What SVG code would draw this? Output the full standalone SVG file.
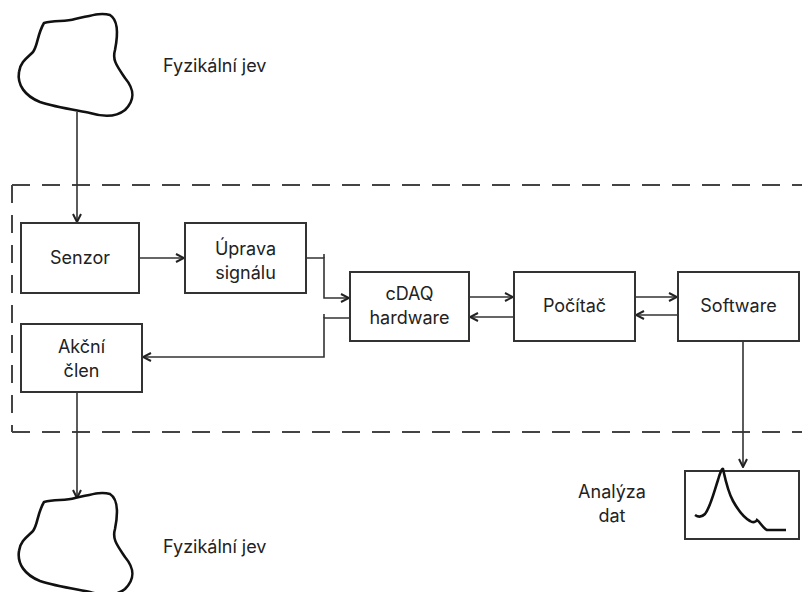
<svg xmlns="http://www.w3.org/2000/svg" width="802" height="592" viewBox="0 0 802 592">
<style>
  text { font-family: Inter, "Open Sans", "Liberation Sans", sans-serif; font-size: 18px; fill: #222; text-anchor: middle; }
  .box { fill: #fff; stroke: #333; stroke-width: 2; }
  .cloud { fill: #fff; stroke: #111; stroke-width: 2.6; }
  .conn { fill: none; stroke: #333; stroke-width: 1.6; }
  .dash { fill: none; stroke: #444; stroke-width: 2; stroke-dasharray: 18 12; }
  .lbl { text-anchor: start; }
</style>
<defs>
  <marker id="arr" viewBox="0 0 10 10" refX="9" refY="5" markerWidth="10" markerHeight="10" markerUnits="userSpaceOnUse" orient="auto">
    <path d="M1,1 L9,5 L1,9" fill="none" stroke="#222" stroke-width="2"/>
  </marker>
  <path id="cloudShape" d="M44,23 C55,20 65,22 75,19 C90,16 100,12 110,15 C118,20 118,35 115,50 C112,60 117,66 125,78 C135,90 135,100 125,110 C115,118 100,116 90,113 C75,110 55,107 40,102 C25,96 17,85 19,72 C20,62 28,57 33,52 C38,45 37,35 44,23 Z"/>
</defs>

<g id="boundary">
  <path class="dash" d="M12,185 H802"/>
  <path class="dash" d="M12,432 H802"/>
  <path class="dash" d="M12,185 V432"/>
</g>

<g id="connectors">
  <path class="conn" d="M77,112 V222" marker-end="url(#arr)"/>
  <path class="conn" d="M139,258 H184" marker-end="url(#arr)"/>
  <path class="conn" d="M306,258 H324 V298 H349" marker-end="url(#arr)"/>
  <path class="conn" d="M324,254 V258"/>
  <path class="conn" d="M350,318 H324 V357 H143" marker-end="url(#arr)"/>
  <path class="conn" d="M324,314 V318"/>
  <path class="conn" d="M469,297 H513" marker-end="url(#arr)"/>
  <path class="conn" d="M514,317 H470" marker-end="url(#arr)"/>
  <path class="conn" d="M635,297 H677" marker-end="url(#arr)"/>
  <path class="conn" d="M678,315 H636" marker-end="url(#arr)"/>
  <path class="conn" d="M743,341 V467" marker-end="url(#arr)"/>
  <path class="conn" d="M77,392 V498" marker-end="url(#arr)"/>
</g>

<g id="cloud-top">
  <use href="#cloudShape" class="cloud"/>
  <text class="lbl" x="163" y="72">Fyzikální jev</text>
</g>

<g id="senzor">
  <rect class="box" x="21" y="223" width="118" height="70"/>
  <text x="80" y="264">Senzor</text>
</g>

<g id="uprava">
  <rect class="box" x="185" y="223" width="121" height="70"/>
  <text x="245.5" y="255">Úprava</text>
  <text x="245.5" y="279">signálu</text>
</g>

<g id="akcni">
  <rect class="box" x="21" y="324" width="121" height="68"/>
  <text x="81.5" y="353">Akční</text>
  <text x="81.5" y="377">člen</text>
</g>

<g id="cdaq">
  <rect class="box" x="350" y="272" width="119" height="69"/>
  <text x="409.5" y="300">cDAQ</text>
  <text x="409.5" y="324">hardware</text>
</g>

<g id="pocitac">
  <rect class="box" x="514" y="272" width="121" height="69"/>
  <text x="574.5" y="312">Počítač</text>
</g>

<g id="software">
  <rect class="box" x="678" y="272" width="121" height="69"/>
  <text x="738.5" y="312">Software</text>
</g>

<g id="analyza">
  <rect class="box" x="685" y="471" width="114" height="68"/>
  <path d="M695,515 C698,517 701,518 705,514 C710,508 714,492 718,480 C720,473 722,468 723,469 C725,478 728,492 733,501 C738,510 743,517 750,521 C753,523 756,522 757,520 C760,522 763,528 767,530 H786" fill="none" stroke="#111" stroke-width="2.6"/>
  <text x="612" y="498">Analýza</text>
  <text x="612" y="522">dat</text>
</g>

<g id="cloud-bottom">
  <use href="#cloudShape" class="cloud" transform="translate(0,479)"/>
  <text class="lbl" x="163" y="553">Fyzikální jev</text>
</g>
</svg>
